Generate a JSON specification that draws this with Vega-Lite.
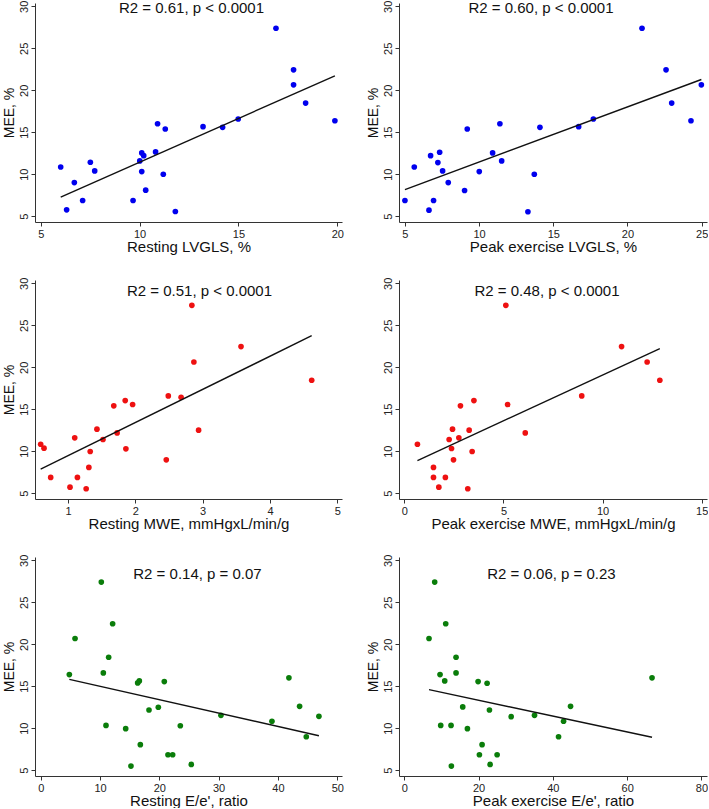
{
  "$schema": "https://vega.github.io/schema/vega-lite/v6.json",
  "padding": {"left": 2, "top": 0, "right": 0, "bottom": 0},
  "background": "white",
  "config": {
    "view": {"stroke": null},
    "font": "Liberation Sans",
    "axis": {
      "grid": false,
      "labelFont": "Liberation Sans",
      "labelFontSize": 11,
      "labelColor": "#222222",
      "titleFont": "Liberation Sans",
      "titleFontSize": 15,
      "titleFontWeight": "normal",
      "titleColor": "#111111",
      "domainColor": "#333333",
      "tickColor": "#333333",
      "tickSize": 4,
      "labelPadding": 2
    },
    "axisX": {"titlePadding": 0},
    "axisY": {"labelAngle": -90, "titlePadding": 2, "titleFontSize": 14},
    "title": {"font": "Liberation Sans", "fontSize": 15, "fontWeight": "normal", "color": "#111111", "anchor": "middle", "frame": "group", "baseline": "middle"}
  },
  "datasets": {
    "p1": [
      {"x": 6.01, "mee": 10.86}, {"x": 6.31, "mee": 5.75}, {"x": 6.70, "mee": 9.0}, {"x": 7.12, "mee": 6.86},
      {"x": 7.51, "mee": 11.42}, {"x": 7.73, "mee": 10.39}, {"x": 9.67, "mee": 6.86}, {"x": 10.01, "mee": 11.58},
      {"x": 10.11, "mee": 12.53}, {"x": 10.21, "mee": 12.21}, {"x": 10.11, "mee": 10.31}, {"x": 10.31, "mee": 8.09},
      {"x": 10.81, "mee": 12.65}, {"x": 10.91, "mee": 16.01}, {"x": 11.30, "mee": 15.38}, {"x": 11.20, "mee": 9.99},
      {"x": 11.81, "mee": 5.55}, {"x": 13.21, "mee": 15.66}, {"x": 14.20, "mee": 15.58}, {"x": 14.99, "mee": 16.57},
      {"x": 16.90, "mee": 27.39}, {"x": 17.79, "mee": 22.43}, {"x": 17.79, "mee": 20.65}, {"x": 18.40, "mee": 18.47},
      {"x": 19.88, "mee": 16.37}
    ],
    "p2": [
      {"x": 5.0, "mee": 6.86}, {"x": 5.63, "mee": 10.86}, {"x": 6.62, "mee": 5.71}, {"x": 6.73, "mee": 12.21},
      {"x": 6.93, "mee": 6.86}, {"x": 7.22, "mee": 11.38}, {"x": 7.34, "mee": 12.61}, {"x": 7.54, "mee": 10.39},
      {"x": 7.92, "mee": 9.0}, {"x": 9.02, "mee": 8.05}, {"x": 9.20, "mee": 15.38}, {"x": 10.01, "mee": 10.31},
      {"x": 10.91, "mee": 12.53}, {"x": 11.40, "mee": 16.01}, {"x": 11.52, "mee": 11.58}, {"x": 13.29, "mee": 5.52},
      {"x": 13.72, "mee": 9.99}, {"x": 14.10, "mee": 15.58}, {"x": 16.71, "mee": 15.66}, {"x": 17.70, "mee": 16.57},
      {"x": 20.98, "mee": 27.39}, {"x": 22.60, "mee": 22.43}, {"x": 22.98, "mee": 18.47}, {"x": 24.28, "mee": 16.37},
      {"x": 24.98, "mee": 20.65}
    ],
    "p3": [
      {"x": 0.594, "mee": 10.83}, {"x": 0.644, "mee": 10.36}, {"x": 0.743, "mee": 6.87}, {"x": 1.03, "mee": 5.71},
      {"x": 1.10, "mee": 11.59}, {"x": 1.14, "mee": 6.87}, {"x": 1.27, "mee": 5.52}, {"x": 1.31, "mee": 8.06},
      {"x": 1.33, "mee": 9.96}, {"x": 1.43, "mee": 12.62}, {"x": 1.52, "mee": 11.39}, {"x": 1.68, "mee": 15.40},
      {"x": 1.73, "mee": 12.18}, {"x": 1.85, "mee": 16.03}, {"x": 1.86, "mee": 10.28}, {"x": 1.96, "mee": 15.56},
      {"x": 2.46, "mee": 8.97}, {"x": 2.49, "mee": 16.59}, {"x": 2.68, "mee": 16.43}, {"x": 2.84, "mee": 27.38},
      {"x": 2.87, "mee": 20.63}, {"x": 2.94, "mee": 12.5}, {"x": 3.57, "mee": 22.46}, {"x": 4.62, "mee": 18.45}
    ],
    "p4": [
      {"x": 0.66, "mee": 10.83}, {"x": 1.47, "mee": 8.06}, {"x": 1.47, "mee": 6.87}, {"x": 1.74, "mee": 5.71},
      {"x": 2.07, "mee": 6.87}, {"x": 2.26, "mee": 11.39}, {"x": 2.38, "mee": 10.32}, {"x": 2.43, "mee": 12.62},
      {"x": 2.48, "mee": 8.97}, {"x": 2.75, "mee": 11.59}, {"x": 2.83, "mee": 15.40}, {"x": 3.27, "mee": 12.5},
      {"x": 3.20, "mee": 5.52}, {"x": 3.42, "mee": 9.96}, {"x": 3.51, "mee": 16.03}, {"x": 5.12, "mee": 27.38},
      {"x": 5.21, "mee": 15.56}, {"x": 6.10, "mee": 12.18}, {"x": 8.95, "mee": 16.59}, {"x": 10.96, "mee": 22.46},
      {"x": 12.25, "mee": 20.63}, {"x": 12.89, "mee": 18.45}
    ],
    "p5": [
      {"x": 4.83, "mee": 16.39}, {"x": 5.79, "mee": 20.69}, {"x": 10.22, "mee": 27.41}, {"x": 10.56, "mee": 16.59},
      {"x": 11.01, "mee": 10.33}, {"x": 11.46, "mee": 18.45}, {"x": 12.13, "mee": 22.44}, {"x": 14.33, "mee": 9.94},
      {"x": 15.22, "mee": 5.48}, {"x": 16.35, "mee": 15.39}, {"x": 16.63, "mee": 15.63}, {"x": 16.80, "mee": 8.03},
      {"x": 18.26, "mee": 12.17}, {"x": 19.83, "mee": 12.49}, {"x": 20.84, "mee": 15.55}, {"x": 21.46, "mee": 6.83},
      {"x": 22.25, "mee": 6.83}, {"x": 23.54, "mee": 10.29}, {"x": 25.39, "mee": 5.68}, {"x": 30.39, "mee": 11.53},
      {"x": 38.99, "mee": 10.82}, {"x": 41.85, "mee": 16.0}, {"x": 43.65, "mee": 12.6}, {"x": 44.78, "mee": 8.98},
      {"x": 46.91, "mee": 11.41}
    ],
    "p6": [
      {"x": 6.65, "mee": 20.69}, {"x": 8.18, "mee": 27.41}, {"x": 9.62, "mee": 16.39}, {"x": 9.80, "mee": 10.33},
      {"x": 10.88, "mee": 15.63}, {"x": 11.15, "mee": 22.44}, {"x": 12.58, "mee": 10.33}, {"x": 12.67, "mee": 5.48},
      {"x": 13.93, "mee": 18.45}, {"x": 13.93, "mee": 16.59}, {"x": 15.73, "mee": 12.53}, {"x": 16.99, "mee": 9.94},
      {"x": 19.87, "mee": 15.55}, {"x": 20.22, "mee": 6.83}, {"x": 20.94, "mee": 8.03}, {"x": 22.29, "mee": 15.35},
      {"x": 22.92, "mee": 12.17}, {"x": 23.10, "mee": 5.68}, {"x": 24.99, "mee": 6.83}, {"x": 28.76, "mee": 11.37},
      {"x": 35.06, "mee": 11.53}, {"x": 41.53, "mee": 8.98}, {"x": 42.88, "mee": 10.82}, {"x": 44.76, "mee": 12.6},
      {"x": 66.70, "mee": 16.0}
    ]
  },
  "columns": 2,
  "spacing": {"row": 23, "column": 22},
  "concat": [
    {
      "width": 307, "height": 219,
      "data": {"name": "p1"},
      "title": {"text": "R2 = 0.61, p < 0.0001", "offset": -16, "dx": 3},
      "encoding": {
        "x": {"field": "x", "type": "quantitative", "scale": {"domain": [4.71, 20.24], "nice": false, "zero": false}, "axis": {"values": [5, 10, 15, 20], "title": "Resting LVGLS, %"}},
        "y": {"field": "mee", "type": "quantitative", "scale": {"domain": [4.3, 30.4], "nice": false, "zero": false}, "axis": {"values": [5, 10, 15, 20, 25, 30], "title": "MEE, %"}}
      },
      "layer": [
        {"mark": {"type": "point", "filled": true, "opacity": 1, "size": 32, "color": "#0000ee"}},
        {"transform": [{"regression": "mee", "on": "x"}], "mark": {"type": "line", "color": "#111111", "strokeWidth": 1.4}}
      ]
    },
    {
      "width": 308, "height": 219,
      "data": {"name": "p2"},
      "title": {"text": "R2 = 0.60, p < 0.0001", "offset": -16, "dx": -12},
      "encoding": {
        "x": {"field": "x", "type": "quantitative", "scale": {"domain": [4.6, 25.36], "nice": false, "zero": false}, "axis": {"values": [5, 10, 15, 20, 25], "title": "Peak exercise LVGLS, %"}},
        "y": {"field": "mee", "type": "quantitative", "scale": {"domain": [4.3, 30.4], "nice": false, "zero": false}, "axis": {"values": [5, 10, 15, 20, 25, 30], "title": "MEE, %"}}
      },
      "layer": [
        {"mark": {"type": "point", "filled": true, "opacity": 1, "size": 32, "color": "#0000ee"}},
        {"transform": [{"regression": "mee", "on": "x"}], "mark": {"type": "line", "color": "#111111", "strokeWidth": 1.4}}
      ]
    },
    {
      "width": 307, "height": 219,
      "data": {"name": "p3"},
      "title": {"text": "R2 = 0.51, p < 0.0001", "offset": -22, "dx": 11},
      "encoding": {
        "x": {"field": "x", "type": "quantitative", "scale": {"domain": [0.51, 5.07], "nice": false, "zero": false}, "axis": {"values": [1, 2, 3, 4, 5], "title": "Resting MWE, mmHgxL/min/g"}},
        "y": {"field": "mee", "type": "quantitative", "scale": {"domain": [4.3, 30.4], "nice": false, "zero": false}, "axis": {"values": [5, 10, 15, 20, 25, 30], "title": "MEE, %"}}
      },
      "layer": [
        {"mark": {"type": "point", "filled": true, "opacity": 1, "size": 32, "color": "#ee1111"}},
        {"transform": [{"regression": "mee", "on": "x"}], "mark": {"type": "line", "color": "#111111", "strokeWidth": 1.4}}
      ]
    },
    {
      "width": 308, "height": 219,
      "data": {"name": "p4"},
      "title": {"text": "R2 = 0.48, p < 0.0001", "offset": -22, "dx": -6},
      "encoding": {
        "x": {"field": "x", "type": "quantitative", "scale": {"domain": [-0.27, 15.27], "nice": false, "zero": false}, "axis": {"values": [0, 5, 10, 15], "title": "Peak exercise MWE, mmHgxL/min/g"}},
        "y": {"field": "mee", "type": "quantitative", "scale": {"domain": [4.3, 30.4], "nice": false, "zero": false}, "axis": {"values": [5, 10, 15, 20, 25, 30], "title": null}}
      },
      "layer": [
        {"mark": {"type": "point", "filled": true, "opacity": 1, "size": 32, "color": "#ee1111"}},
        {"transform": [{"regression": "mee", "on": "x"}], "mark": {"type": "line", "color": "#111111", "strokeWidth": 1.4}}
      ]
    },
    {
      "width": 307, "height": 219,
      "data": {"name": "p5"},
      "title": {"text": "R2 = 0.14, p = 0.07", "offset": -28, "dx": 9},
      "encoding": {
        "x": {"field": "x", "type": "quantitative", "scale": {"domain": [-0.96, 50.8], "nice": false, "zero": false}, "axis": {"values": [0, 10, 20, 30, 40, 50], "title": "Resting E/e', ratio"}},
        "y": {"field": "mee", "type": "quantitative", "scale": {"domain": [4.3, 30.4], "nice": false, "zero": false}, "axis": {"values": [5, 10, 15, 20, 25, 30], "title": "MEE, %"}}
      },
      "layer": [
        {"mark": {"type": "point", "filled": true, "opacity": 1, "size": 32, "color": "#0a7d0a"}},
        {"transform": [{"regression": "mee", "on": "x"}], "mark": {"type": "line", "color": "#111111", "strokeWidth": 1.4}}
      ]
    },
    {
      "width": 308, "height": 219,
      "data": {"name": "p6"},
      "title": {"text": "R2 = 0.06, p = 0.23", "offset": -28, "dx": -1.5},
      "encoding": {
        "x": {"field": "x", "type": "quantitative", "scale": {"domain": [-1.43, 81.5], "nice": false, "zero": false}, "axis": {"values": [0, 20, 40, 60, 80], "title": "Peak exercise E/e', ratio"}},
        "y": {"field": "mee", "type": "quantitative", "scale": {"domain": [4.3, 30.4], "nice": false, "zero": false}, "axis": {"values": [5, 10, 15, 20, 25, 30], "title": "MEE, %"}}
      },
      "layer": [
        {"mark": {"type": "point", "filled": true, "opacity": 1, "size": 32, "color": "#0a7d0a"}},
        {"transform": [{"regression": "mee", "on": "x"}], "mark": {"type": "line", "color": "#111111", "strokeWidth": 1.4}}
      ]
    }
  ]
}
